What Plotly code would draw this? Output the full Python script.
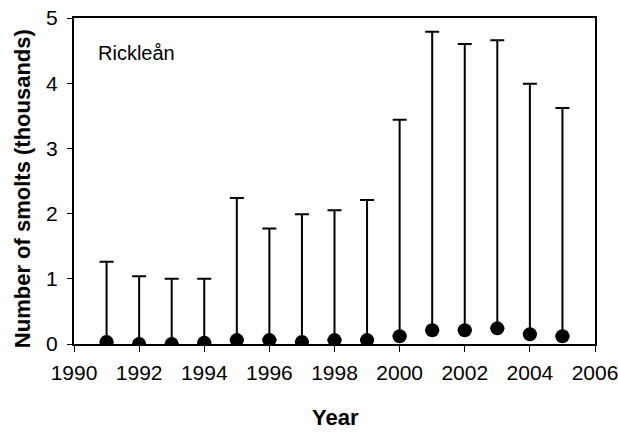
import plotly.graph_objects as go

# Annual smolt estimates for Rickleån (thousands) with upper confidence limits
years = [1991, 1992, 1993, 1994, 1995, 1996, 1997, 1998, 1999, 2000, 2001, 2002, 2003, 2004, 2005]
estimate = [0.03, 0.0, 0.0, 0.02, 0.06, 0.06, 0.03, 0.06, 0.06, 0.12, 0.21, 0.21, 0.24, 0.15, 0.12]
upper_limit = [1.26, 1.04, 1.0, 1.0, 2.24, 1.77, 1.99, 2.05, 2.21, 3.44, 4.79, 4.60, 4.66, 3.99, 3.62]

x_ticks = [1990, 1992, 1994, 1996, 1998, 2000, 2002, 2004, 2006]
y_ticks = [0, 1, 2, 3, 4, 5]

upper_err = [u - e for u, e in zip(upper_limit, estimate)]

FONT = "Liberation Sans, Arial, sans-serif"

fig = go.Figure()
fig.add_trace(go.Scatter(
    x=years,
    y=estimate,
    mode="markers",
    marker=dict(color="black", size=14),
    error_y=dict(
        type="data",
        symmetric=False,
        array=upper_err,
        arrayminus=[0] * len(years),
        color="black",
        thickness=2,
        width=7,
    ),
    showlegend=False,
))

fig.update_layout(
    width=618,
    height=432,
    autosize=False,
    margin=dict(l=74, r=23, t=18, b=88, pad=0),
    paper_bgcolor="white",
    plot_bgcolor="white",
    font=dict(family=FONT, size=21, color="black"),
    xaxis=dict(
        range=[1990, 2006],
        tickvals=x_ticks,
        ticktext=[str(t) for t in x_ticks],
        showgrid=False,
        zeroline=False,
        showline=True,
        linecolor="black",
        linewidth=2,
        mirror=True,
        ticks="outside",
        ticklen=6,
        tickwidth=1,
        tickcolor="black",
        tickfont=dict(size=21),
        ticklabelstandoff=3,
        ticklabeloverflow="allow",
        automargin=False,
    ),
    yaxis=dict(
        range=[0, 5],
        tickvals=y_ticks,
        showgrid=False,
        zeroline=False,
        showline=True,
        linecolor="black",
        linewidth=2,
        mirror=True,
        ticks="outside",
        ticklen=5,
        tickwidth=1,
        tickcolor="black",
        tickfont=dict(size=21),
        ticklabelstandoff=5,
        ticklabeloverflow="allow",
        automargin=False,
    ),
    annotations=[
        dict(text="Rickleån", xref="paper", yref="paper", x=0.042, y=0.893,
             xanchor="left", yanchor="middle", showarrow=False,
             font=dict(size=20)),
        dict(text="<b>Year</b>", xref="paper", yref="paper", x=0.502, y=-0.224,
             xanchor="center", yanchor="middle", showarrow=False,
             font=dict(size=22)),
        dict(text="<b>Number of smolts (thousands)</b>", xref="paper", yref="paper",
             x=-0.0998, y=0.475, xanchor="center", yanchor="middle", textangle=-90,
             showarrow=False, font=dict(size=22)),
    ],
)

fig.write_html("out.html")
